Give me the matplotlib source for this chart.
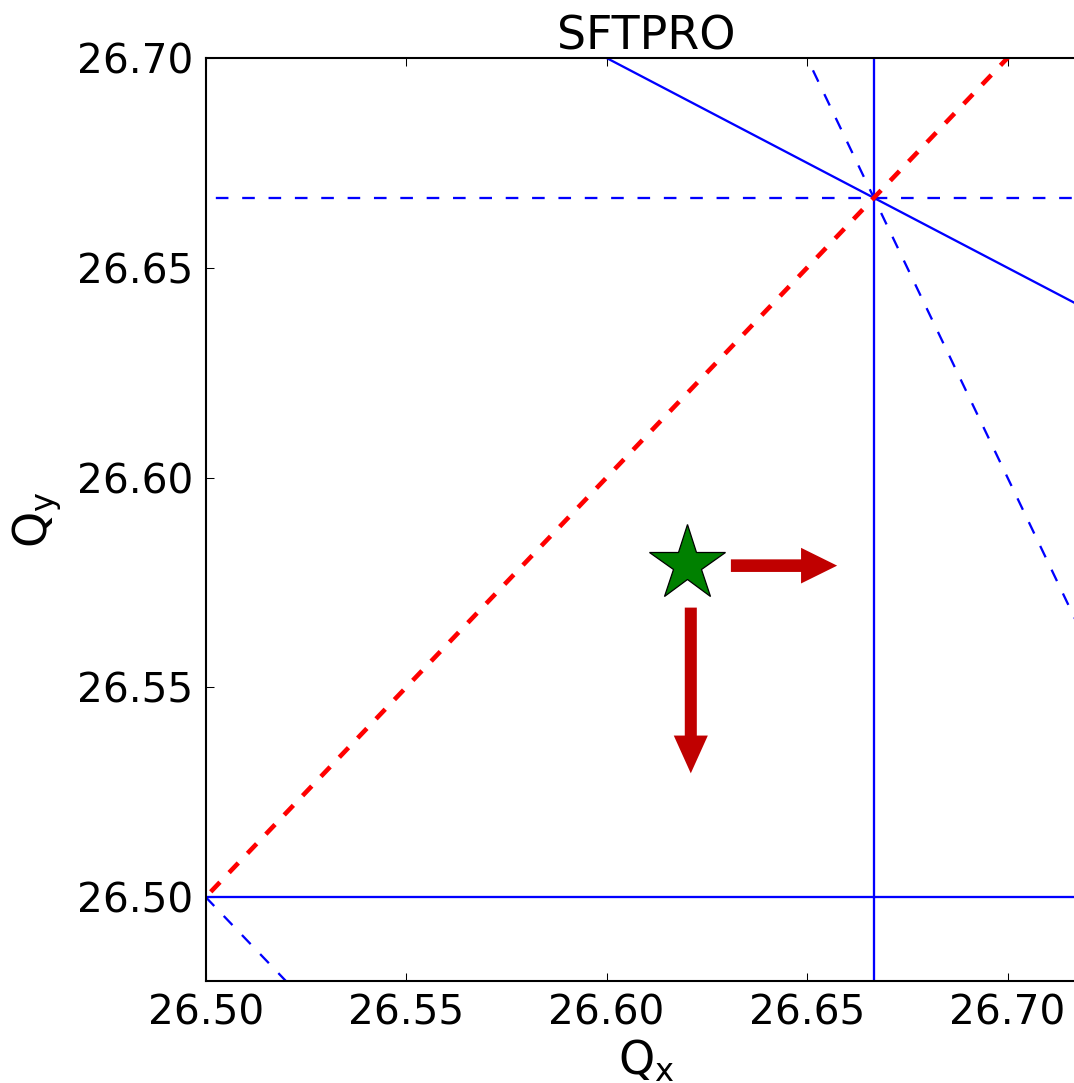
import matplotlib.pyplot as plt
import numpy as np

# tune window
qx_lim = [26.50, 26.72]
qy_lim = [26.48, 26.70]
qx_ticks = [26.50, 26.55, 26.60, 26.65, 26.70]
qy_ticks = [26.50, 26.55, 26.60, 26.65, 26.70]

# resonance lines a*Qx + b*Qy = c
res_solid = [(1, 0, 80 / 3.), (0, 1, 26.5), (1, 2, 80.)]
res_dashed = [(0, 1, 80 / 3.), (2, 1, 80.), (1, 1, 53.)]
coupling = (1, -1, 0.)

# working point and tune shift directions (x, y, dx, dy)
working_point = (26.62, 26.5795)
shifts = [(26.631, 26.579, 0.0175, 0.0),
          (26.621, 26.569, 0.0, -0.0305)]


def res_line(ax, a, b, c, **kw):
    if b == 0:
        ax.axvline(c / a, **kw)
    else:
        x = np.array([qx_lim[0] - 0.05, qx_lim[1] + 0.05])
        ax.plot(x, (c - a * x) / b, **kw)


fig = plt.figure(figsize=(1074 / 150., 1083 / 150.), dpi=150)
ax = fig.add_axes([205.7 / 1074, 102. / 1083, 882. / 1074, 923. / 1083])

for a, b, c in res_solid:
    res_line(ax, a, b, c, color='b', lw=1.1, ls='-')
for a, b, c in res_dashed:
    res_line(ax, a, b, c, color='b', lw=1.1, dashes=(5.5, 6))
res_line(ax, *coupling, color='r', lw=2.2, dashes=(2.9, 2.9))

ax.plot(working_point[0], working_point[1], '*', color='g', ms=38,
        markeredgecolor='k', markeredgewidth=0.6)
for x, y, dx, dy in shifts:
    ax.arrow(x, y, dx, dy, width=0.003, head_width=0.0085, head_length=0.009,
             fc='#c00000', ec='#c00000', lw=0)

ax.set_xlim(qx_lim)
ax.set_ylim(qy_lim)
ax.set_xticks(qx_ticks)
ax.set_yticks(qy_ticks)
ax.set_xticklabels(['%.2f' % t for t in qx_ticks])
ax.set_yticklabels(['%.2f' % t for t in qy_ticks])
ax.tick_params(direction='in', length=4, width=0.5, top=True, right=True,
               labelsize=19.5, pad=6)
for s in ax.spines.values():
    s.set_linewidth(1)

ax.set_xlabel(r'$\mathrm{Q_x}$', fontsize=22, labelpad=2)
ax.set_ylabel(r'$\mathrm{Q_y}$', fontsize=22, labelpad=6)
ax.set_title('SFTPRO', fontsize=22, pad=4)

fig.savefig('out.png', dpi=150)
